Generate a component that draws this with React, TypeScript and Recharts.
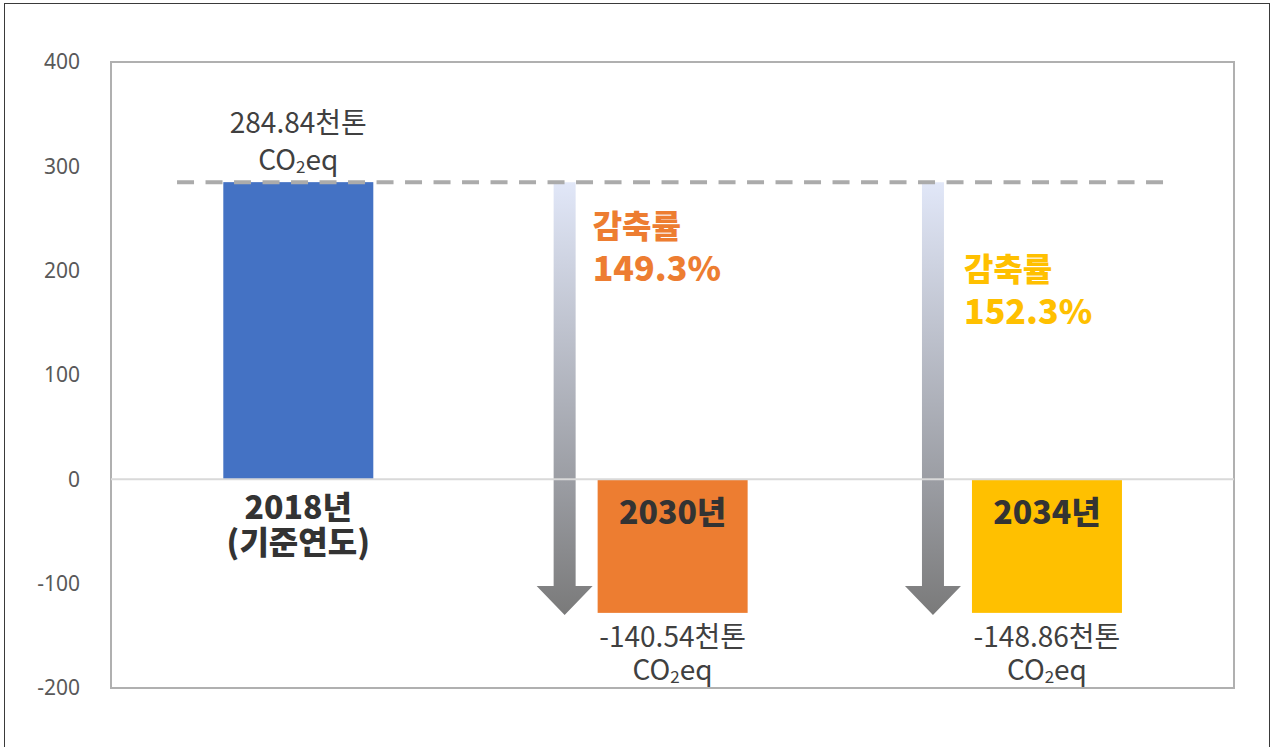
import React from 'react';
import { BarChart, Bar, XAxis, YAxis, Cell, ReferenceLine, ReferenceArea } from 'recharts';

// ---- data ----
const YEARS = ['2018', '2030', '2034'];
const EMISSIONS = [284.84, -128, -128];
const VALUE_LABELS = ['284.84천톤', '-140.54천톤', '-148.86천톤'];
const UNIT_PARTS = ['CO', '2', 'eq'];
const CATEGORY_LABELS = [['2018년', '(기준연도)'], ['2030년'], ['2034년']];
const REDUCTION_TITLE = '감축률';
const REDUCTION_RATES = ['', '149.3%', '152.3%'];
const BASE_VALUE = 284.84;
const Y_TICKS = [-200, -100, 0, 100, 200, 300, 400];

// ---- styles ----
const COLORS = ['#4472C4', '#ED7D31', '#FFC000'];
const BASE_LINE_SPAN = [0.0588, 0.937]; // fraction of plot width
const ANNOT = [
  null,
  { arrowDx: -33, textDx: -5, textDy: 42 },
  { arrowDx: -39, textDx: -8, textDy: 85 },
];
const KR = '"Noto Sans CJK KR", "Noto Sans", sans-serif';
const VAL_FS = 28;
const CAT_FS = 32;

const data = YEARS.map((y, i) => ({ year: y, value: EMISSIONS[i] }));

function BaseLineShape(props: any) {
  const { x1, x2, y1 } = props;
  const w = x2 - x1;
  return (
    <line
      x1={x1 + w * BASE_LINE_SPAN[0]}
      x2={x1 + w * BASE_LINE_SPAN[1]}
      y1={y1}
      y2={y1}
      stroke="#ababab"
      strokeWidth={4}
      strokeDasharray="17 11.5"
    />
  );
}

function BarShape(props: any) {
  const { x, y, width, height, index } = props;
  const top = Math.min(y, y + height);
  const h = Math.abs(height);
  const bottom = top + h;
  const v = EMISSIONS[index];
  const scale = h / Math.abs(v);
  const zeroY = v >= 0 ? bottom : top;
  const baseY = zeroY - BASE_VALUE * scale;
  const cx = x + width / 2;
  const color = COLORS[index];
  const cat = CATEGORY_LABELS[index];
  const a = ANNOT[index];

  const unit = (cy: number) => (
    <text x={cx} y={cy} textAnchor="middle" dominantBaseline="central" fontFamily={KR} fontSize={VAL_FS} fill="#404040">
      <tspan>{UNIT_PARTS[0]}</tspan>
      <tspan fontSize={17} dy={7}>{UNIT_PARTS[1]}</tspan>
      <tspan fontSize={VAL_FS} dy={-7}>{UNIT_PARTS[2]}</tspan>
    </text>
  );

  const elems: any[] = [];
  elems.push(<rect key="r" x={x} y={top} width={width} height={h} fill={color} />);

  if (v >= 0) {
    elems.push(
      <text key="v1" x={cx} y={top - 61} textAnchor="middle" dominantBaseline="central" fontFamily={KR} fontSize={VAL_FS} fill="#404040">{VALUE_LABELS[index]}</text>
    );
    elems.push(<g key="v2">{unit(top - 24)}</g>);
    cat.forEach((t, k) => {
      elems.push(
        <text key={'c' + k} x={cx} y={zeroY + 26 + k * 35} textAnchor="middle" dominantBaseline="central" fontFamily={KR} fontWeight={900} fontSize={CAT_FS} fill="#333333">{t}</text>
      );
    });
  } else {
    elems.push(
      <text key="c0" x={cx} y={zeroY + 31} textAnchor="middle" dominantBaseline="central" fontFamily={KR} fontWeight={900} fontSize={CAT_FS} fill="#333333">{cat[0]}</text>
    );
    elems.push(
      <text key="v1" x={cx} y={bottom + 22} textAnchor="middle" dominantBaseline="central" fontFamily={KR} fontSize={VAL_FS} fill="#404040">{VALUE_LABELS[index]}</text>
    );
    elems.push(<g key="v2">{unit(bottom + 55)}</g>);
    if (a) {
      const ax = x + a.arrowDx;
      const tip = bottom + 2;
      const headLen = 29;
      const sw = 11;
      const hw = 28;
      const gid = 'arrowGrad' + index;
      const d = `M${ax - sw},${baseY} L${ax + sw},${baseY} L${ax + sw},${tip - headLen} L${ax + hw},${tip - headLen} L${ax},${tip} L${ax - hw},${tip - headLen} L${ax - sw},${tip - headLen} Z`;
      elems.push(
        <g key="arrow">
          <defs>
            <linearGradient id={gid} x1="0" y1="0" x2="0" y2="1">
              <stop offset="0" stopColor="#e1e7f8" />
              <stop offset="0.7" stopColor="#9a9ca2" />
              <stop offset="1" stopColor="#7a7a7a" />
            </linearGradient>
          </defs>
          <path d={d} fill={`url(#${gid})`} />
        </g>
      );
      elems.push(
        <text key="t1" x={x + a.textDx} y={baseY + a.textDy} dominantBaseline="central" fontFamily={KR} fontWeight={900} fontSize={32} fill={color}>{REDUCTION_TITLE}</text>
      );
      elems.push(
        <text key="t2" x={x + a.textDx} y={baseY + a.textDy + 42} dominantBaseline="central" fontFamily={KR} fontWeight={900} fontSize={34} fill={color}>{REDUCTION_RATES[index]}</text>
      );
    }
  }
  return <g>{elems}</g>;
}

export default function App() {
  return (
    <div style={{ position: 'absolute', left: 0, top: 0, width: 1276, height: 747, overflow: 'hidden', background: '#ffffff' }}>
      <div style={{ position: 'absolute', left: 4, top: 3, width: 1266, height: 770, border: '1.5px solid #3a3a3a', boxSizing: 'border-box' }} />
      <div style={{ position: 'absolute', left: 0, top: 0 }}>
        <BarChart width={1276} height={747} data={data} margin={{ top: 62, right: 42, bottom: 59, left: 0 }} barCategoryGap="30%">
          <XAxis dataKey="year" hide />
          <YAxis
            width={111}
            domain={[-200, 400]}
            ticks={Y_TICKS}
            interval={0}
            axisLine={false}
            tickLine={false}
            tickSize={0}
            tickMargin={31}
            tick={{ fill: '#595959', fontSize: 21, fontFamily: '"Noto Sans", sans-serif' }}
          />
          <ReferenceArea y1={-200} y2={400} fill="none" stroke="#b0b0b0" strokeWidth={2} />
          <ReferenceLine y={0} stroke="#d9d9d9" strokeWidth={2} />
          <ReferenceLine y={BASE_VALUE} shape={BaseLineShape} />
          <Bar dataKey="value" isAnimationActive={false} shape={BarShape}>
            {data.map((d, i) => (
              <Cell key={d.year} fill={COLORS[i]} />
            ))}
          </Bar>
        </BarChart>
      </div>
    </div>
  );
}
